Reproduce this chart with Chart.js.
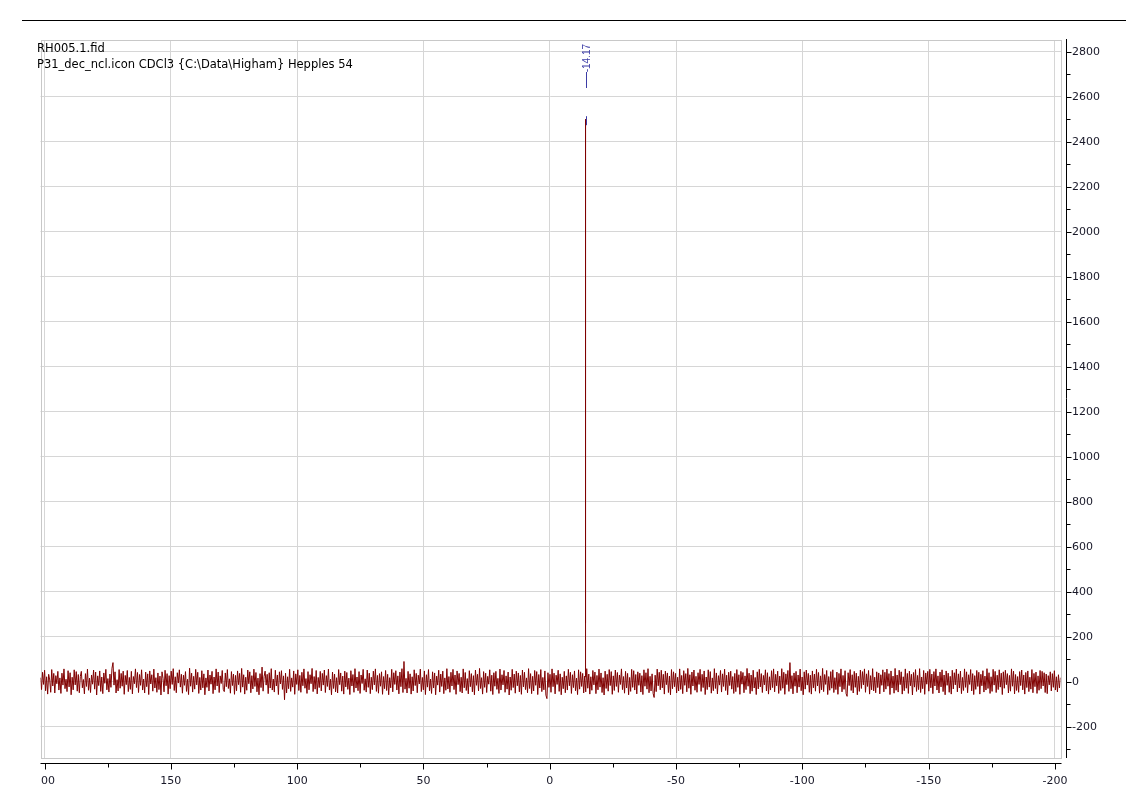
<!DOCTYPE html>
<html>
<head>
<meta charset="utf-8">
<title>RH005.1.fid</title>
<script src="https://cdn.jsdelivr.net/npm/chart.js@4/dist/chart.umd.min.js"></script>
<style>
  html, body { margin: 0; padding: 0; background: #fff; }
  #wrap { width: 1126px; height: 786px; }
</style>
</head>
<body>
<div id="wrap"><canvas id="nmr" width="1126" height="786"></canvas></div>
<script>
// header lines of the spectrum
const titleLines = ["RH005.1.fid", "P31_dec_ncl.icon CDCl3 {C:\\Data\\Higham} Hepples 54"];

// ppm window shown, and axis ticks
const ppmLeft = 201.6;
const ppmRight = -202.2;
const xTicks = [200, 150, 100, 50, 0, -50, -100, -150, -200];
const yTicks = [-200, 0, 200, 400, 600, 800, 1000, 1200, 1400, 1600, 1800, 2000, 2200, 2400, 2600, 2800];
const yMin = -339;
const yMax = 2852;

// baseline noise, left (high ppm) to right (low ppm)
const noise = [
  18,-35,42,-12,51,-40,22,-55,33,8,-47,54,-19,37,-50,27,-9,46,-37,17,
  -52,38,-15,57,-31,11,-44,49,-23,40,-58,20,-36,53,-14,45,-42,32,-49,23,
  46,-27,10,-54,36,-21,56,-38,16,-48,30,-11,52,-33,43,-59,26,-17,48,-43,
  21,-53,39,-7,55,-36,14,-46,34,-25,60,85,-15,44,-50,9,-41,54,-29,37,
  -20,47,-56,28,-13,50,-44,19,-34,46,-54,23,-9,57,-26,41,-48,32,-16,53,
  -37,12,-50,43,-22,35,-57,48,-10,31,-42,56,-28,18,-47,39,-35,25,-59,44,
  15,-45,51,-18,36,-55,27,-31,47,-12,58,-39,22,-49,40,-6,53,-24,33,-51,
  29,-16,45,-43,11,-57,60,-20,38,-46,24,-33,55,-14,42,-52,19,-37,49,-27,
  35,-58,17,-25,52,-41,30,-11,46,-53,21,-36,57,-19,43,-48,26,-8,50,-34,
  -44,39,-22,54,-30,13,-51,45,-17,34,-56,28,-40,48,-13,37,-47,59,-24,31,
  -55,20,-38,52,-9,44,-49,27,-32,56,-21,41,-45,16,-58,36,-26,65,-42,24,
  47,-15,33,-53,40,-28,58,-37,12,-46,51,-19,30,-57,44,-10,49,-34,26,-80,
  38,-50,22,-31,55,-43,17,-24,48,-56,35,-12,53,-39,28,-47,42,-18,57,-29,
  14,-52,45,-36,31,-9,59,-44,23,-33,50,-54,19,-26,46,-41,37,-15,52,-48,
  27,-21,56,-37,11,-58,43,-30,34,-45,18,-50,54,-13,39,-42,25,-55,47,-23,
  41,-34,16,-57,49,-19,32,-47,58,-28,21,-40,45,-52,30,-8,55,-38,13,-46,
  52,-25,38,-53,20,-35,47,-14,57,-43,28,-51,36,-20,44,-56,23,-31,50,-39,
  33,-58,18,-27,55,-45,40,-12,49,-37,26,-54,43,-22,58,-48,90,-33,15,-50,
  46,-29,35,-55,22,-41,53,-17,37,-49,29,-10,56,-44,19,-36,48,-57,31,-24,
  54,-40,12,-52,44,-28,39,-58,25,-15,51,-46,34,-21,47,-53,17,-38,58,-32,
  23,-47,42,-19,55,-35,30,-56,48,-13,37,-44,20,-50,57,-27,41,-39,14,-54,
  49,-22,36,-45,27,-58,52,-16,33,-41,59,-30,18,-55,45,-25,38,-48,24,-11,
  53,-42,29,-57,40,-20,46,-34,15,-52,56,-37,31,-14,50,-47,26,-33,43,-59,
  21,-38,55,-26,34,-51,47,-18,39,-45,28,-56,52,-23,42,-35,17,-49,58,-30,
  36,-53,24,-41,50,-16,45,-57,32,-28,54,-44,19,-36,48,-60,-75,40,-25,33,
  -47,57,-22,38,-54,29,-12,51,-43,35,-58,20,-31,46,-49,26,-37,55,-18,42,
  -52,31,-26,48,-40,16,-57,53,-33,44,-21,37,-50,25,-45,58,-29,34,-55,22,
  -38,50,-14,43,-53,28,-36,56,-24,39,-48,18,-59,47,-30,33,-42,54,-17,45,
  -56,26,-39,52,-21,41,-47,30,-12,57,-35,23,-51,46,-28,37,-58,19,-43,55,
  -25,49,-37,32,-54,44,-16,38,-46,27,-57,53,-20,40,-33,58,-49,24,-41,35,
  -52,-70,29,-44,56,-18,42,-36,51,-27,33,-55,47,-13,39,-48,25,-58,54,-31,
  44,-22,37,-50,20,-41,57,-34,28,-53,49,-16,36,-45,59,-29,31,-56,43,-19,
  52,-38,24,-47,40,-12,55,-43,33,-26,48,-57,21,-35,53,-24,45,-51,17,-40,
  58,-30,39,-54,27,-15,50,-46,35,-21,56,-39,29,-58,42,-17,47,-33,23,-52,
  37,-44,54,-25,31,-56,46,-11,41,-49,26,-35,59,-20,38,-53,30,-42,51,-28,
  19,-57,44,-32,55,-23,36,-48,28,-14,53,-41,40,-55,22,-37,49,-26,57,-45,
  33,-18,47,-52,25,-39,58,-29,42,-56,35,-13,50,-43,85,-31,27,-54,39,-20,
  46,-49,30,-24,56,-40,21,-58,44,-33,52,-15,37,-47,29,-55,48,-27,34,-42,
  55,-19,41,-51,26,-36,59,-44,32,-12,50,-57,23,-38,45,-29,53,-48,18,-35,
  43,-56,37,-22,57,-45,28,-34,49,-53,-65,40,-17,54,-39,31,-50,46,-25,38,
  -58,24,-43,52,-30,45,-14,57,-47,35,-21,50,-55,27,-36,58,-41,20,-49,44,
  -26,39,-54,31,-16,53,-45,42,-33,56,-20,36,-57,48,-28,25,-51,59,-38,30,
  -46,51,-13,44,-55,22,-40,57,-29,37,-52,47,-18,33,-59,41,-24,54,-43,28,
  -35,58,-48,21,-31,50,-56,39,-11,46,-42,55,-27,34,-53,45,-19,57,-37,26,
  -50,43,-23,53,-44,30,-58,48,-16,38,-47,24,-55,51,-32,40,-14,56,-45,35,
  -28,47,-53,19,-39,57,-25,44,-49,31,-12,54,-41,36,-57,27,-34,50,-21,42,
  -55,33,-18,49,-46,25,-37,58,-30,40,-52,22,-43,55,-15,46,-48,29,-35,53,
  -24,38,-57,44,-29,51,-13,36,-50,28,-42,57,-20,47,-54,32,-39,23,-47,45,
  -17,52,-36,30,-55,41,-26,48,-44,20,-33,54,-49,37,-22,43,-52,26,-38,50,
  -31,46,-19,40,-48,34,-53,27,-14,44,-41,36,-25,49,-37,22,-45,31,-28,18
];

// the single 31P resonance
const peakLabel = "-14.17";
const peakPpm = [-14.17, -14.17, -14.17];
const peakInt = [20, 2500, 260];

const txtFont = "'DejaVu Sans', sans-serif";
const traceColor = "#800000";
const labelColor = "#3c3ca6";

const step = (ppmRight - ppmLeft) / (noise.length - 1);
const spectrum = noise.map((v, i) => ({ x: ppmLeft + i * step, y: v }));
const peak = peakPpm.map((p, i) => ({ x: p, y: peakInt[i] }));

const decor = {
  id: "decor",
  beforeDatasetsDraw(chart) {
    const ctx = chart.ctx, a = chart.chartArea;
    ctx.save();
    ctx.strokeStyle = "#c8c8c8";
    ctx.lineWidth = 1;
    ctx.strokeRect(Math.round(a.left) + 0.5, Math.round(a.top) + 0.5,
      Math.round(a.right - a.left), Math.round(a.bottom - a.top));
    ctx.restore();
  },
  afterDraw(chart) {
    const ctx = chart.ctx, a = chart.chartArea;
    const xs = chart.scales.x, ys = chart.scales.y;
    ctx.save();
    ctx.strokeStyle = "#000";
    ctx.lineWidth = 1;

    // top rule
    ctx.beginPath();
    ctx.moveTo(22, 20.5); ctx.lineTo(1126, 20.5);
    ctx.stroke();

    // bottom axis, set off below the frame
    const axY = Math.round(a.bottom) + 5.5;
    ctx.beginPath();
    ctx.moveTo(a.left, axY); ctx.lineTo(a.right + 1, axY);
    xTicks.forEach(v => {
      const px = Math.round(xs.getPixelForValue(v)) + 0.5;
      ctx.moveTo(px, axY); ctx.lineTo(px, axY + 6);
    });
    xTicks.slice(1).forEach(v => {
      const px = Math.round(xs.getPixelForValue(v + 25)) + 0.5;
      ctx.moveTo(px, axY); ctx.lineTo(px, axY + 4);
    });
    ctx.stroke();

    // right axis
    const axX = Math.round(a.right) + 5.5;
    ctx.beginPath();
    ctx.moveTo(axX, a.top - 1); ctx.lineTo(axX, a.bottom);
    yTicks.forEach(v => {
      const py = Math.round(ys.getPixelForValue(v)) + 0.5;
      ctx.moveTo(axX, py); ctx.lineTo(axX + 5, py);
      const pm = Math.round(ys.getPixelForValue(v - 100)) + 0.5;
      ctx.moveTo(axX, pm); ctx.lineTo(axX + 4, pm);
    });
    ctx.stroke();

    // header text
    ctx.fillStyle = "#000";
    ctx.font = "11.5px " + txtFont;
    ctx.textAlign = "left";
    ctx.textBaseline = "alphabetic";
    ctx.fillText(titleLines[0], 37, 51.5);
    ctx.fillText(titleLines[1], 37, 68);

    // peak annotation
    const pk = Math.round(xs.getPixelForValue(peakPpm[1])) + 0.5;
    ctx.strokeStyle = labelColor;
    ctx.fillStyle = labelColor;
    ctx.beginPath();
    ctx.moveTo(pk, 72); ctx.lineTo(pk, 88);
    const top = ys.getPixelForValue(peakInt[1]);
    ctx.moveTo(pk, top - 3); ctx.lineTo(pk, top + 6);
    ctx.stroke();
    ctx.translate(pk + 0.5, 44);
    ctx.rotate(-Math.PI / 2);
    ctx.font = "10px 'Liberation Sans', sans-serif";
    ctx.textAlign = "right";
    ctx.textBaseline = "middle";
    ctx.fillText(peakLabel, 0, 0);
    ctx.restore();

    // the 200 label is cut by the left page edge
    ctx.fillStyle = "#fff";
    ctx.fillRect(0, axY + 7, 40, 30);
  }
};

new Chart(document.getElementById("nmr").getContext("2d"), {
  type: "line",
  data: {
    datasets: [
      { data: spectrum, borderColor: traceColor, borderWidth: 1, pointRadius: 0, tension: 0 },
      { data: peak, borderColor: traceColor, borderWidth: 1, pointRadius: 0, tension: 0 }
    ]
  },
  options: {
    responsive: false,
    devicePixelRatio: 1,
    animation: false,
    layout: { padding: { top: 40, left: 40.5, right: 0, bottom: 0 } },
    plugins: { legend: { display: false }, tooltip: { enabled: false } },
    scales: {
      x: {
        type: "linear",
        position: "bottom",
        reverse: true,
        min: ppmRight,
        max: ppmLeft,
        afterBuildTicks: s => { s.ticks = xTicks.map(v => ({ value: v })); },
        afterFit: s => { s.height = 28; },
        grid: { color: "#d6d6d6", drawTicks: false },
        border: { display: false },
        ticks: {
          color: "#181828",
          font: { family: txtFont, size: 11 },
          padding: 16.5,
          maxRotation: 0,
          autoSkip: false,
          callback: v => String(v)
        }
      },
      y: {
        type: "linear",
        position: "right",
        min: yMin,
        max: yMax,
        afterBuildTicks: s => { s.ticks = yTicks.map(v => ({ value: v })); },
        afterFit: s => { s.width = 65.5; },
        grid: { color: "#d6d6d6", drawTicks: false },
        border: { display: false },
        ticks: {
          color: "#181828",
          font: { family: txtFont, size: 11 },
          padding: 11.5,
          autoSkip: false,
          callback: v => String(v)
        }
      }
    }
  },
  plugins: [decor]
});
</script>
</body>
</html>
